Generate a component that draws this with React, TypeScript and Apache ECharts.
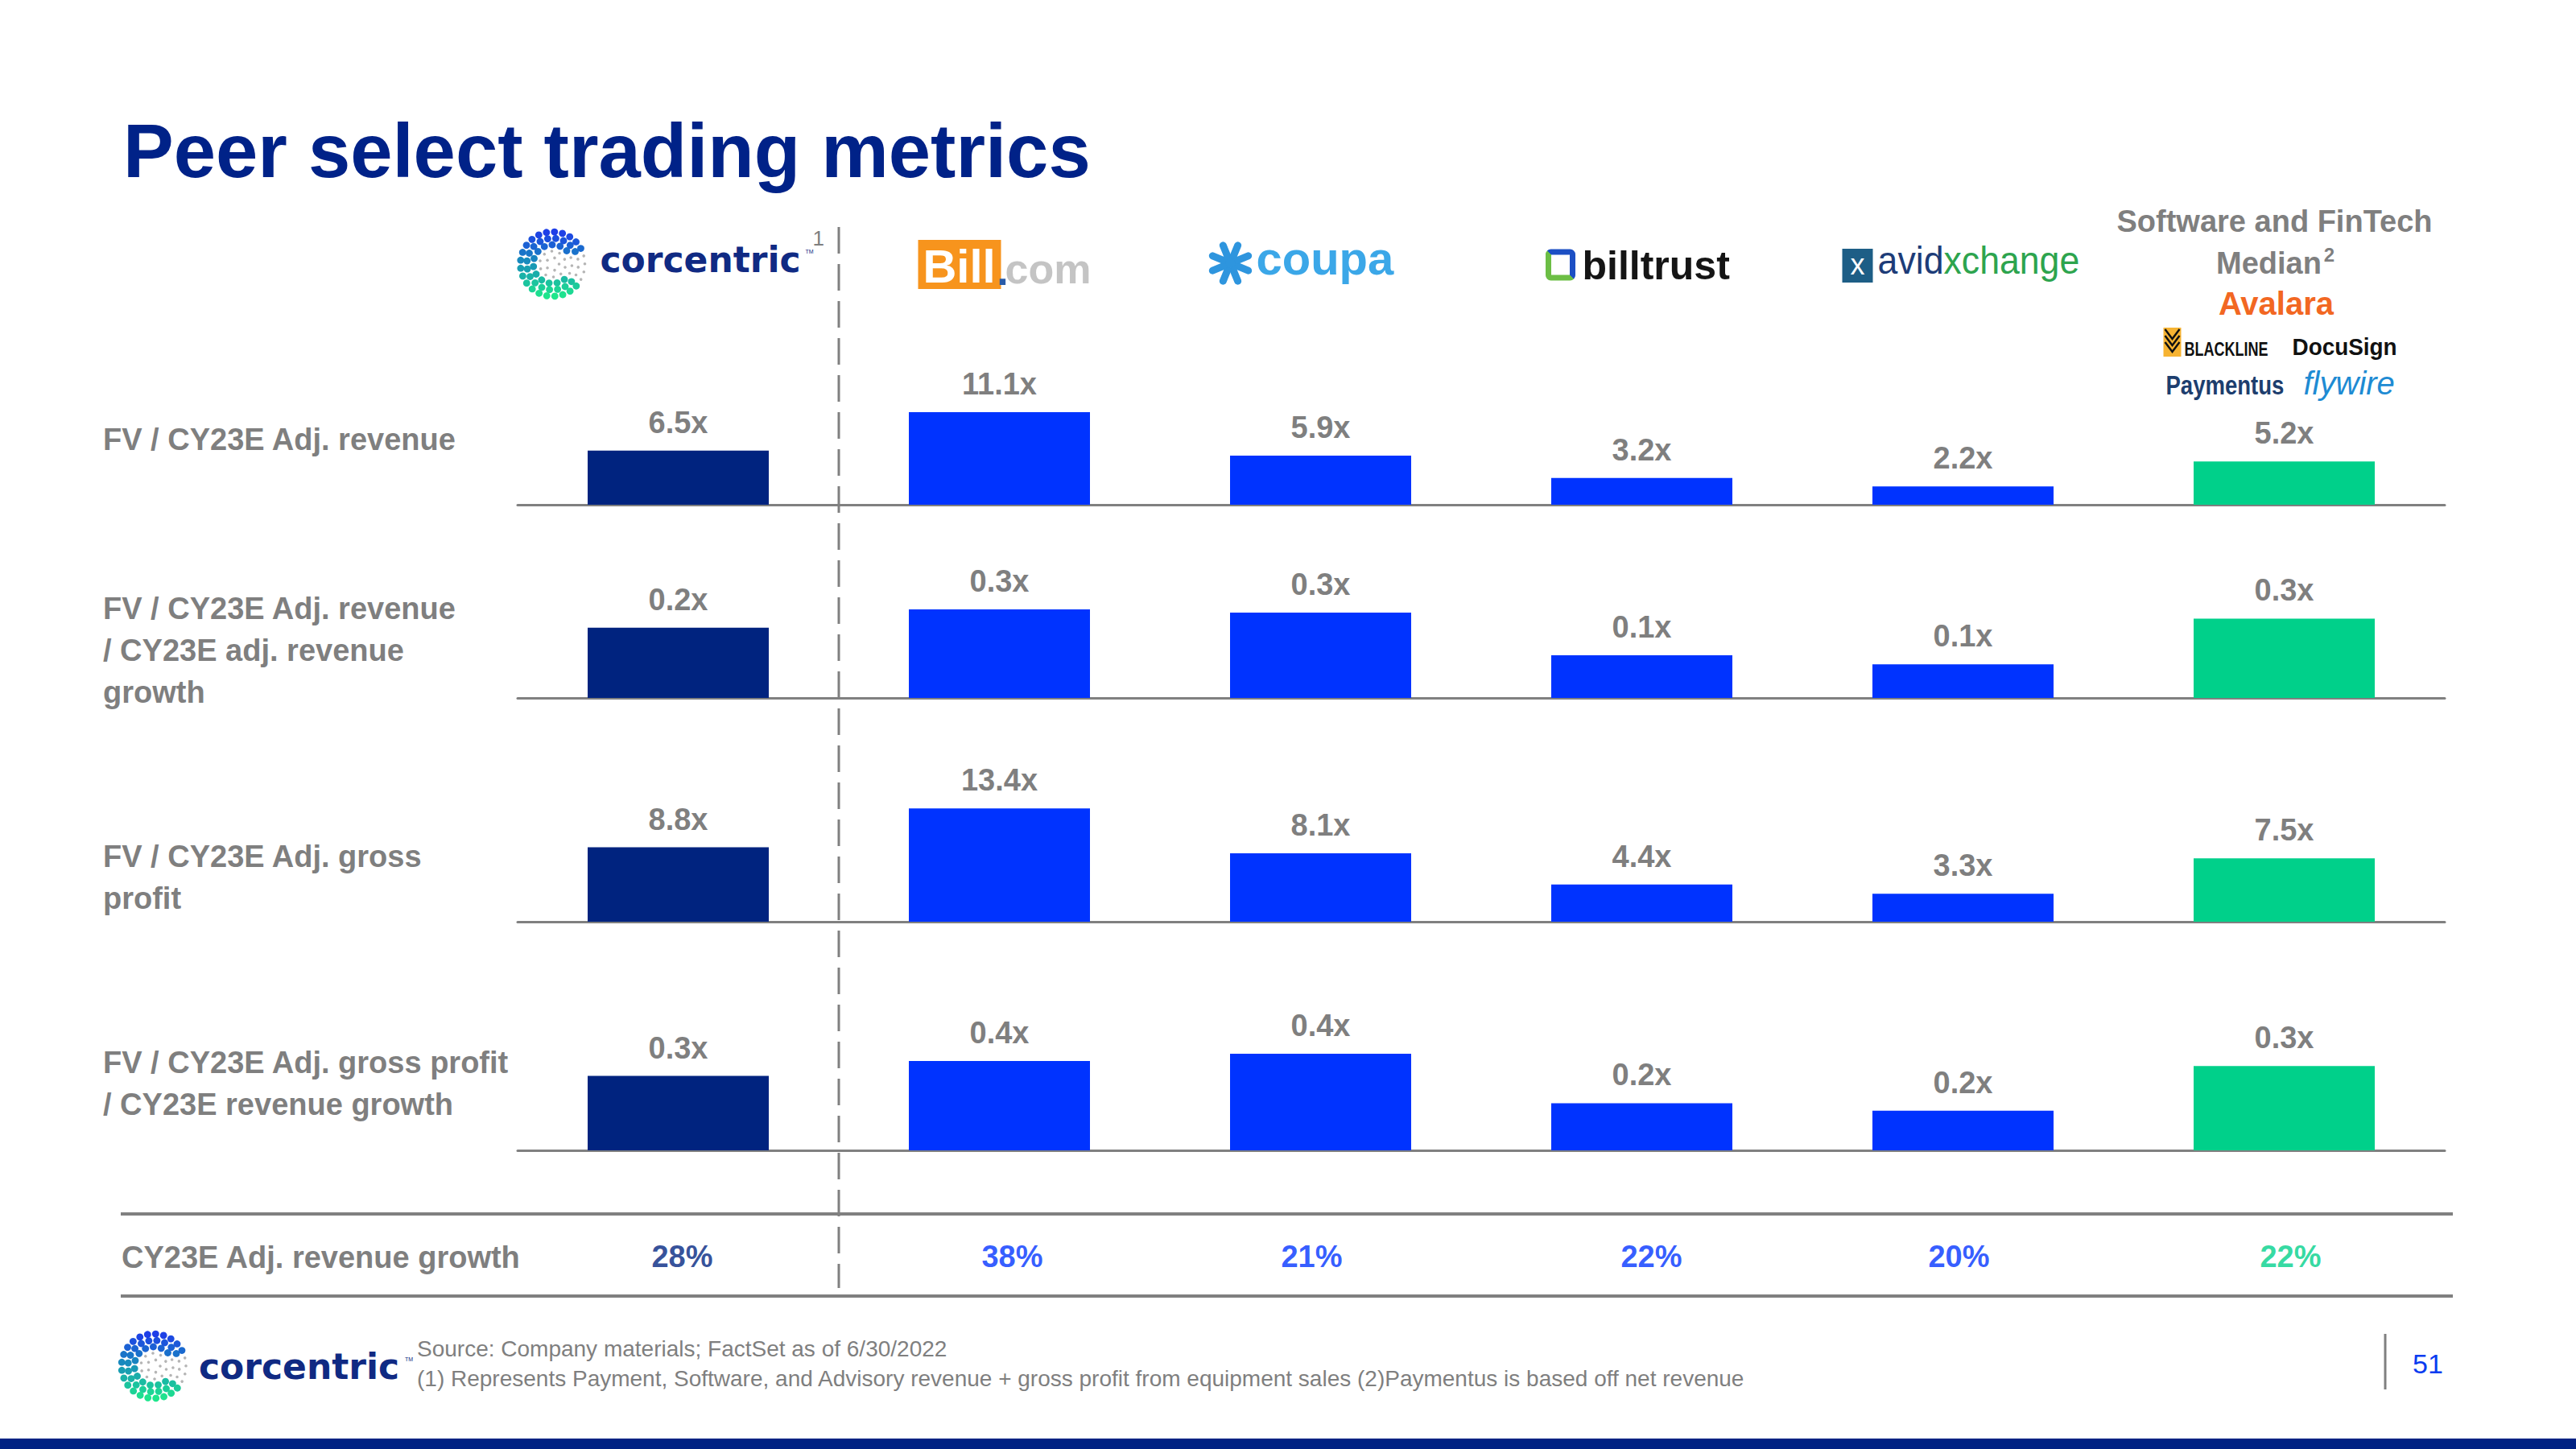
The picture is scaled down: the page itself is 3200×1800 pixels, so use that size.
import React, { useEffect, useRef } from 'react';
import * as echarts from 'echarts';

// ---------- DATA ----------
const companies = ['Corcentric', 'Bill.com', 'Coupa', 'Billtrust', 'AvidXchange', 'Software and FinTech Median'];
const fvRevenue = [6.5, 11.1, 5.9, 3.2, 2.2, 5.2];
const fvRevenueOverGrowth = [0.23, 0.29, 0.28, 0.14, 0.11, 0.26];
const fvGrossProfit = [8.8, 13.4, 8.1, 4.4, 3.3, 7.5];
const fvGrossProfitOverGrowth = [0.30, 0.36, 0.39, 0.19, 0.16, 0.34];
const revenueGrowth = [28, 38, 21, 22, 20, 22];
const rowLabels = [
  ['FV / CY23E Adj. revenue'],
  ['FV / CY23E Adj. revenue', '/ CY23E adj. revenue', 'growth'],
  ['FV / CY23E Adj. gross', 'profit'],
  ['FV / CY23E Adj. gross profit', '/ CY23E revenue growth'],
];
const growthLabel = 'CY23E Adj. revenue growth';
const titleText = 'Peer select trading metrics';
const sourceLines = [
  'Source: Company materials; FactSet as of 6/30/2022',
  '(1) Represents Payment, Software, and Advisory revenue + gross profit from equipment sales (2)Paymentus is based off net revenue',
];

// ---------- STYLE / LAYOUT ----------
const NAVY = '#00237F';
const BLUE = '#0033FF';
const GREEN = '#00D08A';
const GREY = '#7F7F7F';
const LINE = '#808080';
const FONT = 'Liberation Sans, Arial, sans-serif';
const LOGO_FONT = 'DejaVu Sans, Verdana, sans-serif';
const barColors = [NAVY, BLUE, BLUE, BLUE, BLUE, GREEN];
const growthColors = [NAVY, BLUE, BLUE, BLUE, BLUE, GREEN];
const growthLabelShift = [5, 16, -11, 12, -5, 8];

const GRID_LEFT = 643;
const GRID_W = 2394;
const CAT_W = GRID_W / companies.length;
const rows = [
  { data: fvRevenue, base: 627, max: 14, h: 145, labelBase: 559 },
  { data: fvRevenueOverGrowth, base: 867, max: 0.4, h: 151.6, labelBase: 769 },
  { data: fvGrossProfit, base: 1145, max: 16, h: 168, labelBase: 1077 },
  { data: fvGrossProfitOverGrowth, base: 1429, max: 0.5, h: 154, labelBase: 1333 },
];
const center = (i: number) => GRID_LEFT + CAT_W * (i + 0.5);

function txt(text: string, x: number, y: number, o: any = {}) {
  const { scaleX, ...style } = o;
  const el: any = {
    type: 'text',
    x,
    y,
    silent: true,
    style: {
      text,
      fill: GREY,
      fontFamily: FONT,
      fontSize: 38,
      fontWeight: 'bold',
      align: 'left',
      verticalAlign: 'middle',
      ...style,
    },
  };
  if (scaleX) el.scaleX = scaleX;
  return el;
}

function mix(a: string, b: string, t: number) {
  const pa = [1, 3, 5].map((k) => parseInt(a.slice(k, k + 2), 16));
  const pb = [1, 3, 5].map((k) => parseInt(b.slice(k, k + 2), 16));
  const c = pa.map((v, i) => Math.round(v + (pb[i] - v) * t));
  return `rgb(${c[0]},${c[1]},${c[2]})`;
}

function dotLogo(cx: number, cy: number, R: number) {
  const els: any[] = [];
  const rings = [
    { r: 0.2, n: 5 },
    { r: 0.4, n: 10 },
    { r: 0.6, n: 15 },
    { r: 0.8, n: 20 },
    { r: 1.0, n: 25 },
  ];
  rings.forEach((ring, ri) => {
    for (let k = 0; k < ring.n; k++) {
      const a = (k / ring.n) * Math.PI * 2 + ri * 0.25;
      const x = cx + Math.cos(a) * ring.r * R;
      const y = cy + Math.sin(a) * ring.r * R;
      const deg = (((a * 180) / Math.PI) % 360 + 360) % 360;
      const opening = deg > 335 || deg < 40;
      const colored = ri >= 2 && !(opening && ri < 5) && !(opening && ri === 4 && deg > 340);
      if (colored) {
        const t = (y - (cy - R)) / (2 * R);
        const col = t < 0.5 ? mix('#1E3DE8', '#1793B8', t * 2) : mix('#1793B8', '#1EE68C', (t - 0.5) * 2);
        els.push({ type: 'circle', silent: true, shape: { cx: x, cy: y, r: R * 0.11 }, style: { fill: col } });
      } else {
        els.push({ type: 'circle', silent: true, shape: { cx: x, cy: y, r: R * 0.045 }, style: { fill: '#B5B5B5' } });
      }
    }
  });
  return els;
}

function buildGraphics() {
  const g: any[] = [];
  // title
  g.push(txt(titleText, 153, 187, { fill: '#002288', fontSize: 94 }));

  // row labels
  rows.forEach((r, ri) => {
    rowLabels[ri].forEach((line, li) => {
      g.push(txt(line, 128, r.labelBase + li * 52 - 13));
    });
  });
  g.push(txt(growthLabel, 151, 1562));

  // table lines
  g.push({ type: 'line', silent: true, shape: { x1: 150, y1: 1508, x2: 3047, y2: 1508 }, style: { stroke: LINE, lineWidth: 4 } });
  g.push({ type: 'line', silent: true, shape: { x1: 150, y1: 1610, x2: 3047, y2: 1610 }, style: { stroke: LINE, lineWidth: 4 } });
  // dashed separator
  const sepX = GRID_LEFT + CAT_W;
  g.push({ type: 'line', silent: true, shape: { x1: sepX, y1: 282, x2: sepX, y2: 1600 }, style: { stroke: LINE, lineWidth: 3, lineDash: [33, 13] } });

  // ---- header logos ----
  // corcentric
  const c0 = center(0);
  g.push(...dotLogo(c0 - 156, 328, 40));
  g.push(txt('corcentric', c0 - 97, 322, { fill: '#102A83', fontFamily: LOGO_FONT, fontSize: 44 }));
  g.push(txt('TM', c0 + 158, 312, { fill: '#102A83', fontSize: 7, fontWeight: 'normal' }));
  g.push(txt('1', c0 + 167, 296, { fill: GREY, fontSize: 26, fontWeight: 'normal' }));

  // Bill.com
  const c1 = center(1);
  g.push({ type: 'rect', silent: true, shape: { x: c1 - 101, y: 298, width: 103, height: 61 }, style: { fill: '#F7941D' } });
  g.push(txt('Bill', c1 - 50, 330, { fill: '#ffffff', fontSize: 58, align: 'center' }));
  g.push(txt('.', c1 + 4, 336, { fill: '#2A5CA8', fontSize: 52, align: 'center' }));
  g.push(txt('com', c1 + 114, 334, { fill: '#C4C4C4', fontSize: 52, align: 'right' }));

  // coupa
  const c2 = center(2);
  const sx = c2 - 112, sy = 327;
  for (let k = 0; k < 8; k++) {
    const a = (k * Math.PI) / 4 + Math.PI / 8;
    g.push({
      type: 'line', silent: true,
      shape: { x1: sx + Math.cos(a) * 9, y1: sy + Math.sin(a) * 9, x2: sx + Math.cos(a) * 24, y2: sy + Math.sin(a) * 24 },
      style: { stroke: '#2E95DE', lineWidth: 9, lineCap: 'round' },
    });
  }
  g.push({ type: 'circle', silent: true, shape: { cx: sx, cy: sy, r: 6 }, style: { fill: '#2E95DE' } });
  g.push(txt('coupa', c2 - 80, 320, { fill: '#3BA7E8', fontSize: 58 }));

  // billtrust
  const c3 = center(3);
  g.push({
    type: 'rect', silent: true,
    shape: { x: c3 - 116, y: 313, width: 30, height: 32, r: 3 },
    style: {
      fill: 'none',
      lineWidth: 7,
      stroke: new echarts.graphic.LinearGradient(1, 0, 0, 1, [
        { offset: 0, color: '#1C4FC4' },
        { offset: 0.5, color: '#1C4FC4' },
        { offset: 0.5, color: '#6CBE45' },
        { offset: 1, color: '#6CBE45' },
      ]),
    },
  });
  g.push(txt('billtrust', c3 - 74, 330, { fill: '#151515', fontSize: 50 }));

  // avidxchange
  const c4 = center(4);
  g.push({ type: 'rect', silent: true, shape: { x: c4 - 150, y: 309, width: 38, height: 42 }, style: { fill: '#1D5E86' } });
  g.push(txt('x', c4 - 131, 328, { fill: '#ffffff', fontSize: 36, align: 'center', fontWeight: 'normal' }));
  g.push(txt('avid', c4 - 24, 323, { fill: '#1D3C78', fontSize: 48, fontWeight: 'normal', align: 'right', scaleX: 0.93 }));
  g.push(txt('xchange', c4 - 24, 323, { fill: '#2DA44E', fontSize: 48, fontWeight: 'normal', scaleX: 0.93 }));

  // median header
  const c5 = center(5);
  g.push(txt('Software and FinTech', c5 - 12, 275, { align: 'center' }));
  g.push(txt('Median', c5 - 19, 327, { align: 'center' }));
  g.push(txt('2', c5 + 56, 316, { fontSize: 24, align: 'center' }));
  g.push(txt('Avalara', c5 - 10, 377, { fill: '#F26722', fontSize: 40, align: 'center' }));
  // BLACKLINE
  const bx = c5 - 150, by = 407;
  g.push({ type: 'rect', silent: true, shape: { x: bx, y: by, width: 22, height: 36 }, style: { fill: '#F6B332' } });
  [8, 16, 24].forEach((dy) => {
    g.push({ type: 'polyline', silent: true, shape: { points: [[bx + 2, by + dy - 6], [bx + 11, by + dy + 6], [bx + 20, by + dy - 6]] }, style: { stroke: '#111', lineWidth: 2.5, fill: 'none' } });
  });
  g.push(txt('BLACKLINE', bx + 26, 434, { fill: '#111', fontSize: 24, scaleX: 0.75 }));
  g.push(txt('DocuSign', c5 + 10, 431, { fill: '#111', fontSize: 30, scaleX: 0.93 }));
  g.push(txt('Paymentus', c5 - 147, 478, { fill: '#1D3E6E', fontSize: 33, scaleX: 0.835 }));
  g.push(txt('flywire', c5 + 24, 476, { fill: '#1E8BD3', fontSize: 40, fontWeight: 'normal', fontStyle: 'italic' }));

  // ---- footer ----
  g.push(...dotLogo(191, 1697, 40));
  g.push(txt('corcentric', 247, 1697, { fill: '#102A83', fontFamily: LOGO_FONT, fontSize: 44 }));
  g.push(txt('TM', 503, 1688, { fill: '#102A83', fontSize: 7, fontWeight: 'normal' }));
  sourceLines.forEach((s, i) => {
    g.push(txt(s, 518, 1675 + i * 37, { fontSize: 28, fontWeight: 'normal' }));
  });
  g.push({ type: 'line', silent: true, shape: { x1: 2963, y1: 1657, x2: 2963, y2: 1726 }, style: { stroke: LINE, lineWidth: 3 } });
  g.push(txt('51', 2997, 1694, { fill: '#0A3CF0', fontSize: 34, fontWeight: 'normal' }));
  g.push({ type: 'rect', silent: true, shape: { x: 0, y: 1787, width: 3200, height: 13 }, style: { fill: '#002283' } });
  return g;
}

function buildOption() {
  const grids: any[] = rows.map((r) => ({
    left: GRID_LEFT, width: GRID_W, top: r.base - r.h, height: r.h, outerBoundsMode: 'none', containLabel: false,
  }));
  grids.push({ left: GRID_LEFT, width: GRID_W, top: 1531, height: 60, outerBoundsMode: 'none', containLabel: false });

  const xAxes: any[] = rows.map((_, i) => ({
    type: 'category', gridIndex: i, data: companies,
    axisLabel: { show: false }, axisTick: { show: false }, splitLine: { show: false },
    axisLine: { show: true, lineStyle: { color: LINE, width: 3 } },
  }));
  xAxes.push({ type: 'category', gridIndex: 4, data: companies, show: false });

  const yAxes: any[] = rows.map((r, i) => ({ type: 'value', gridIndex: i, min: 0, max: r.max, show: false }));
  yAxes.push({ type: 'value', gridIndex: 4, min: 0, max: 1, show: false });

  const series: any[] = rows.map((r, i) => ({
    type: 'bar', xAxisIndex: i, yAxisIndex: i, barWidth: 225, clip: false, silent: true,
    data: r.data.map((v, j) => ({ value: v, itemStyle: { color: barColors[j] } })),
    label: {
      show: true, position: 'top', distance: 16,
      formatter: (p: any) => Number(p.value).toFixed(1) + 'x',
      color: GREY, fontSize: 38, fontWeight: 'bold', fontFamily: FONT,
    },
  }));
  series.push({
    type: 'scatter', xAxisIndex: 4, yAxisIndex: 4, symbolSize: 1, silent: true,
    itemStyle: { color: 'rgba(0,0,0,0)' },
    data: revenueGrowth.map((_, j) => ({
      value: [j, 0.5],
      label: { color: growthColors[j], offset: [growthLabelShift[j], 0] },
    })),
    label: {
      show: true, position: 'inside',
      formatter: (p: any) => revenueGrowth[p.dataIndex] + '%',
      fontSize: 38, fontWeight: 'bold', fontFamily: FONT,
    },
  });

  return {
    animation: false,
    backgroundColor: '#ffffff',
    grid: grids,
    xAxis: xAxes,
    yAxis: yAxes,
    series,
    graphic: { elements: buildGraphics() },
  };
}

export default function App() {
  const ref = useRef<HTMLDivElement>(null);
  useEffect(() => {
    if (!ref.current) return;
    const chart = echarts.init(ref.current, null, { renderer: 'svg', width: 3200, height: 1800 });
    chart.setOption(buildOption() as any);
    return () => chart.dispose();
  }, []);
  return <div ref={ref} style={{ position: 'absolute', left: 0, top: 0, width: 3200, height: 1800, background: '#fff' }} />;
}
